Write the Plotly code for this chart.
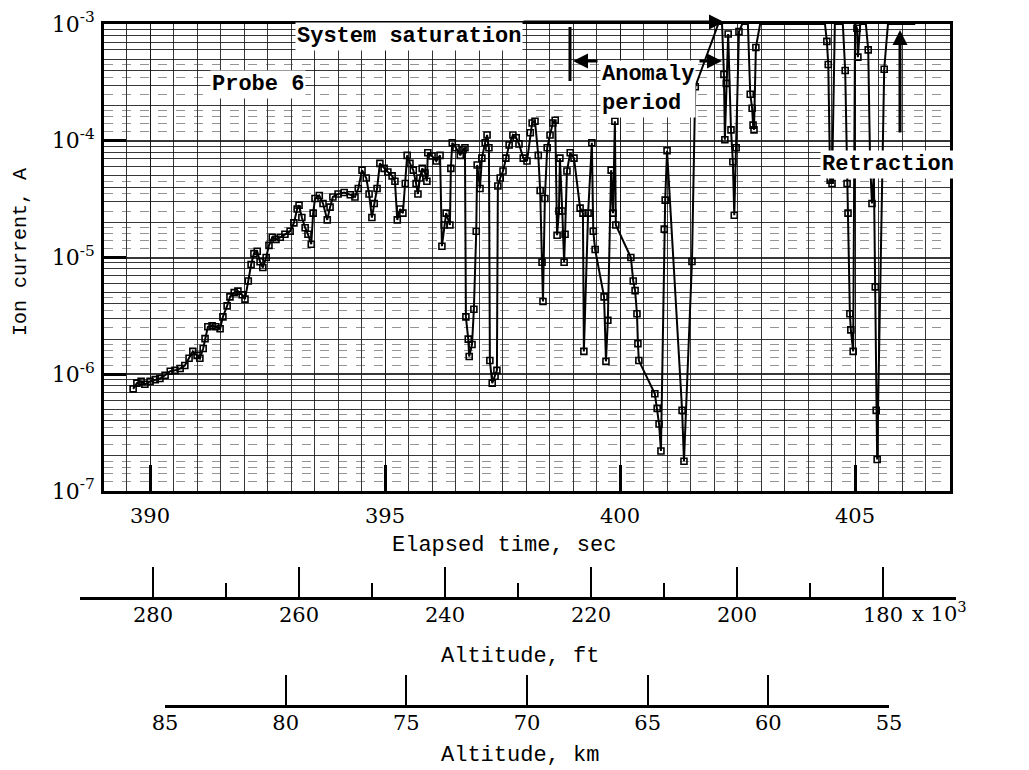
import plotly.graph_objects as go

# ---------------- data ----------------
elapsed_time = [
    389.64, 389.72, 389.81, 389.89, 390.00, 390.11, 390.21, 390.32, 390.43, 390.53,
    390.64, 390.74, 390.83, 390.91, 391.00, 391.06, 391.13, 391.17, 391.23, 391.32,
    391.40, 391.49, 391.55, 391.64, 391.70, 391.79, 391.87, 391.96, 392.02, 392.09,
    392.15, 392.21, 392.28, 392.34, 392.40, 392.47, 392.53, 392.60, 392.68, 392.77,
    392.87, 392.98, 393.06, 393.13, 393.17, 393.23, 393.30, 393.36, 393.43, 393.47,
    393.51, 393.60, 393.68, 393.77, 393.83, 393.89, 394.00, 394.13, 394.26, 394.36,
    394.43, 394.51, 394.60, 394.66, 394.72, 394.77, 394.83, 394.89, 394.98, 395.06,
    395.15, 395.21, 395.26, 395.32, 395.38, 395.43, 395.47, 395.53, 395.60, 395.66,
    395.70, 395.74, 395.79, 395.85, 395.89, 395.91, 396.00, 396.09, 396.17, 396.21,
    396.26, 396.30, 396.38, 396.40, 396.43, 396.51, 396.60, 396.66, 396.70, 396.72,
    396.77, 396.79, 396.85, 396.89, 396.94, 396.96, 397.02, 397.06, 397.13, 397.17,
    397.21, 397.23, 397.28, 397.34, 397.38, 397.40, 397.45, 397.51, 397.57, 397.64,
    397.72, 397.79, 397.85, 397.94, 398.02, 398.09, 398.13, 398.19, 398.26, 398.30,
    398.34, 398.36, 398.40, 398.45, 398.51, 398.57, 398.62, 398.66, 398.70, 398.72,
    398.77, 398.81, 398.83, 398.87, 398.94, 399.02, 399.15, 399.21, 399.23, 399.32,
    399.40, 399.43, 399.47, 399.66, 399.70, 399.74, 399.81, 399.85, 399.89, 399.91,
    400.23, 400.28, 400.32, 400.36, 400.38, 400.40, 400.74, 400.79, 400.83, 400.87,
    400.94, 400.96, 401.00, 401.32, 401.36, 401.53, 401.60, 402.09, 402.17, 402.21,
    402.23, 402.26, 402.30, 402.36, 402.40, 402.43, 402.47, 402.53, 402.60, 402.72,
    402.77, 402.81, 402.83, 402.85, 402.89, 402.98, 403.62, 404.36, 404.40, 404.43,
    404.47, 404.51, 404.57, 404.74, 404.79, 404.83, 404.85, 404.89, 404.91, 404.96,
    405.00, 405.04, 405.06, 405.11, 405.23, 405.28, 405.32, 405.36, 405.40, 405.43,
    405.45, 405.47, 405.62, 405.70, 406.28,
]

ion_current = [
    7.5e-7, 8.4e-7, 8.7e-7, 8.2e-7, 8.7e-7, 9.0e-7, 9.2e-7, 9.8e-7, 1.06e-6, 1.08e-6,
    1.12e-6, 1.19e-6, 1.37e-6, 1.57e-6, 1.45e-6, 1.37e-6, 1.66e-6, 2.02e-6, 2.55e-6, 2.6e-6,
    2.55e-6, 2.45e-6, 3.1e-6, 3.85e-6, 4.6e-6, 5.0e-6, 5.15e-6, 4.8e-6, 4.4e-6, 6.3e-6,
    8.7e-6, 1.08e-5, 1.13e-5, 9.2e-6, 8.2e-6, 1.0e-5, 1.27e-5, 1.49e-5, 1.43e-5, 1.49e-5,
    1.58e-5, 1.68e-5, 1.98e-5, 2.6e-5, 2.8e-5, 2.2e-5, 1.8e-5, 1.58e-5, 1.3e-5, 2.4e-5,
    3.2e-5, 3.4e-5, 2.9e-5, 2.1e-5, 2.7e-5, 3.3e-5, 3.5e-5, 3.6e-5, 3.45e-5, 3.3e-5,
    3.9e-5, 5.6e-5, 4.8e-5, 3.5e-5, 2.2e-5, 2.9e-5, 3.9e-5, 6.4e-5, 5.8e-5, 5.4e-5,
    5.0e-5, 4.5e-5, 2.1e-5, 2.6e-5, 2.4e-5, 4.3e-5, 7.5e-5, 6.4e-5, 5.6e-5, 4.3e-5,
    3.5e-5, 4.8e-5, 5.8e-5, 5.3e-5, 4.5e-5, 7.9e-5, 7.4e-5, 6.7e-5, 7.5e-5, 1.25e-5,
    1.9e-5, 2.4e-5, 1.9e-5, 5.8e-5, 9.6e-5, 8.7e-5, 7.5e-5, 8.4e-5, 8.7e-5, 3.1e-6,
    2.0e-6, 1.42e-6, 1.8e-6, 3.6e-6, 1.68e-5, 6.2e-5, 3.9e-5, 7.1e-5, 9.6e-5, 1.12e-4,
    8.7e-5, 1.31e-6, 8.4e-7, 9.6e-7, 1.08e-6, 4.1e-5, 4.8e-5, 5.5e-5, 7.1e-5, 9.2e-5,
    1.12e-4, 1.06e-4, 9.4e-5, 7.1e-5, 6.7e-5, 1.17e-4, 1.42e-4, 1.47e-4, 7.5e-5, 3.75e-5,
    9.1e-6, 4.2e-6, 3.2e-5, 8.7e-5, 1.12e-4, 1.42e-4, 1.5e-4, 1.55e-5, 2.5e-5, 7.1e-5,
    2.5e-5, 9.1e-6, 1.58e-5, 5.5e-5, 7.9e-5, 7.1e-5, 2.65e-5, 2.4e-5, 1.57e-6, 2.4e-5,
    9.6e-5, 1.68e-5, 1.17e-5, 4.6e-6, 1.29e-6, 2.9e-6, 5.6e-5, 2.4e-5, 1.47e-4, 1.9e-5,
    1.0e-5, 6.3e-6, 5.2e-6, 3.3e-6, 1.83e-6, 1.31e-6, 6.8e-7, 5.1e-7, 3.75e-7, 2.2e-7,
    1.75e-5, 3.1e-5, 8.2e-5, 4.9e-7, 1.8e-7, 9.25e-6, 2.9e-4, 1e-3, 1e-3, 3.7e-4,
    1.02e-4, 3.1e-4, 8.2e-4, 1.24e-4, 6.6e-5, 2.3e-5, 8.7e-5, 8.6e-4, 1e-3, 1e-3,
    2.5e-4, 1.9e-4, 1.36e-4, 1.24e-4, 6.3e-4, 1e-3, 1e-3, 1e-3, 7.1e-4, 4.5e-4,
    4.6e-5, 4.3e-5, 1e-3, 1e-3, 4.0e-4, 4.3e-5, 2.4e-5, 3.3e-6, 2.4e-6, 1.57e-6,
    1e-3, 9.2e-4, 5.2e-4, 1e-3, 1e-3, 6.0e-4, 6.4e-5, 2.9e-5, 5.3e-5, 5.6e-6,
    4.9e-7, 1.86e-7, 4.1e-4, 1e-3, 1e-3,
]
assert len(elapsed_time) == len(ion_current)

time_ticks = [390, 395, 400, 405]
current_ticks = [1e-7, 1e-6, 1e-5, 1e-4, 1e-3]
current_tick_text = ["10<sup>-7</sup>", "10<sup>-6</sup>", "10<sup>-5</sup>",
                     "10<sup>-4</sup>", "10<sup>-3</sup>"]
alt_ft_ticks = [280, 260, 240, 220, 200, 180]          # x 10^3 ft
alt_ft_minor = [290, 270, 250, 230, 210, 190, 170]
alt_km_ticks = [85, 80, 75, 70, 65, 60, 55]

# ---------------- layout helpers ----------------
W, H = 1029, 770
def px(x):
    return x / W
def py(y):
    return 1 - y / H

MONO = "Liberation Mono"
SERIF = "DejaVu Serif"
INK = "black"

# graph-paper rulings of the log scale
minor_current = [m * 10.0 ** k for k in range(-7, -3) for m in range(2, 10)]
fine_current = [m * 10.0 ** k for k in range(-7, -3) for m in (1.2, 1.4, 1.6, 1.8, 2.5, 3.5, 4.5)]

fig = go.Figure()
fig.add_trace(go.Scatter(
    x=elapsed_time, y=ion_current, mode="lines+markers",
    line=dict(color=INK, width=2),
    marker=dict(symbol="square-open", size=6, color=INK, line=dict(width=1.6, color=INK)),
    cliponaxis=False, showlegend=False, hoverinfo="x+y",
))
# carriers for the two altitude scales and the fine ruling
fig.add_trace(go.Scatter(x=[], y=[], xaxis="x2", yaxis="y2", showlegend=False))
fig.add_trace(go.Scatter(x=[], y=[], xaxis="x3", yaxis="y3", showlegend=False))
fig.add_trace(go.Scatter(x=[], y=[], xaxis="x", yaxis="y4", showlegend=False))

grid = "rgba(20,20,20,0.85)"
fig.update_layout(
    width=W, height=H, margin=dict(l=0, r=0, t=0, b=0),
    paper_bgcolor="white", plot_bgcolor="white", template="none",
    showlegend=False,
    xaxis=dict(
        domain=[px(104), px(950)], range=[389.02, 407.02], anchor="y",
        tickvals=time_ticks, ticks="inside", ticklen=26, tickwidth=3, tickcolor=INK,
        showline=True, mirror=True, linewidth=2.5, linecolor=INK,
        showgrid=True, gridcolor=grid, gridwidth=1.3,
        minor=dict(dtick=0.5, tick0=390, showgrid=True, gridcolor=grid, gridwidth=1.3, ticks=""),
        tickfont=dict(family=SERIF, size=21, color=INK), ticklabelstandoff=4,
        automargin=False, zeroline=False, fixedrange=True,
    ),
    yaxis=dict(
        type="log", domain=[py(491), py(24)], range=[-7, -3], anchor="x",
        tickvals=current_ticks, ticktext=current_tick_text,
        ticks="inside", ticklen=22, tickwidth=3, tickcolor=INK,
        showline=True, mirror=True, linewidth=2.5, linecolor=INK,
        showgrid=True, gridcolor=grid, gridwidth=1.6,
        minor=dict(tickvals=minor_current, showgrid=True, gridcolor=grid, gridwidth=1.1, ticks=""),
        tickfont=dict(family=SERIF, size=22, color=INK), ticklabelstandoff=2,
        automargin=False, zeroline=False, fixedrange=True,
    ),
    yaxis4=dict(
        type="log", range=[-7, -3], overlaying="y", anchor="x", side="left",
        tickvals=fine_current, showticklabels=False, ticks="",
        showgrid=True, gridcolor="rgba(60,60,60,0.55)", gridwidth=1, griddash="dash",
        showline=False, zeroline=False, automargin=False, fixedrange=True,
    ),
    xaxis2=dict(
        domain=[px(80), px(956)], range=[290, 170], anchor="y2",
        tickvals=alt_ft_ticks, ticks="inside", ticklen=30, tickwidth=1.5, tickcolor=INK,
        minor=dict(tickvals=alt_ft_minor, ticks="inside", ticklen=14, tickwidth=1.5, tickcolor=INK),
        showline=True, linewidth=2.5, linecolor=INK, showgrid=False, zeroline=False,
        tickfont=dict(family=SERIF, size=21, color=INK), ticklabelstandoff=-3,
        automargin=False, fixedrange=True,
    ),
    yaxis2=dict(domain=[py(597), py(560)], range=[0, 1], visible=False, anchor="x2", fixedrange=True),
    xaxis3=dict(
        domain=[px(165), px(889)], range=[85, 55], anchor="y3",
        tickvals=alt_km_ticks, ticks="inside", ticklen=30, tickwidth=1.5, tickcolor=INK,
        showline=True, linewidth=2.5, linecolor=INK, showgrid=False, zeroline=False,
        tickfont=dict(family=SERIF, size=21, color=INK), ticklabelstandoff=-3,
        automargin=False, fixedrange=True,
    ),
    yaxis3=dict(domain=[py(705), py(665)], range=[0, 1], visible=False, anchor="x3", fixedrange=True),
)

lab = dict(family=MONO, size=22, color=INK)
bold = dict(family=MONO, size=22, color=INK, weight="bold")
ann = []
# axis titles
ann.append(dict(text="Elapsed time, sec", x=px(504), y=py(545), xref="paper", yref="paper",
                showarrow=False, font=lab, xanchor="center", yanchor="middle"))
ann.append(dict(text="Ion current, A", x=px(20), y=py(252), xref="paper", yref="paper",
                showarrow=False, font=dict(family=MONO, size=20, color=INK), textangle=-90,
                xanchor="center", yanchor="middle"))
ann.append(dict(text="Altitude, ft", x=px(520), y=py(656), xref="paper", yref="paper",
                showarrow=False, font=lab, xanchor="center", yanchor="middle"))
ann.append(dict(text="Altitude, km", x=px(520), y=py(755), xref="paper", yref="paper",
                showarrow=False, font=lab, xanchor="center", yanchor="middle"))
ann.append(dict(text="x 10<sup>3</sup>", x=px(910), y=py(612), xref="paper", yref="paper",
                showarrow=False, font=dict(family=SERIF, size=21, color=INK),
                xanchor="left", yanchor="middle"))
# in-plot labels
ann.append(dict(text="System saturation", x=px(409), y=py(22), xref="paper", yref="paper",
                showarrow=False, font=bold, bgcolor="white", borderpad=1))
ann.append(dict(text="", x=px(724), y=py(22), ax=-202, ay=0, xref="paper", yref="paper",
                showarrow=True, arrowhead=2, arrowsize=1, arrowwidth=3, arrowcolor=INK))
ann.append(dict(text="Probe 6", x=px(210), y=py(70), xref="paper", yref="paper",
                showarrow=False, font=bold, bgcolor="white", borderpad=1))
ann.append(dict(text="Anomaly<br>period", x=px(648), y=py(60), xref="paper", yref="paper",
                showarrow=False, font=bold, bgcolor="white", align="left", borderpad=1))
ann.append(dict(text="", x=px(573), y=py(61), ax=26, ay=0, xref="paper", yref="paper",
                showarrow=True, arrowhead=2, arrowsize=1, arrowwidth=3, arrowcolor=INK))
ann.append(dict(text="", x=px(722), y=py(61), ax=-24, ay=0, xref="paper", yref="paper",
                showarrow=True, arrowhead=2, arrowsize=1, arrowwidth=3, arrowcolor=INK))
ann.append(dict(text="Retraction", x=px(956), y=py(150), xref="paper", yref="paper",
                showarrow=False, font=bold, bgcolor="white", borderpad=1))
ann.append(dict(text="", x=px(900), y=py(30), ax=0, ay=104, xref="paper", yref="paper",
                showarrow=True, arrowhead=2, arrowsize=1, arrowwidth=3, arrowcolor=INK))
fig.update_layout(annotations=ann)

# anomaly-period start bar
fig.add_shape(type="line", xref="paper", yref="paper", x0=px(570), x1=px(570),
              y0=py(27), y1=py(81), line=dict(color=INK, width=3))

fig.write_html("out.html",
               config={"displayModeBar": False},
               post_script="document.body.style.margin='0';document.body.style.padding='0';")
